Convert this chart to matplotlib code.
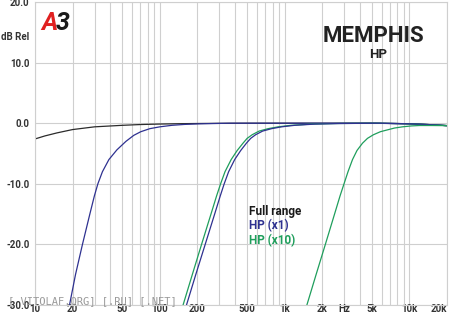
import matplotlib
matplotlib.use("Agg")
import matplotlib.pyplot as plt
from matplotlib.ticker import FixedLocator, NullFormatter

plt.rcParams['font.family'] = ['Roboto', 'DejaVu Sans']

# frequency response curves (Hz, dB)
full_f = [10, 12, 15, 20, 30, 50, 70, 100, 150, 200, 300, 500, 1000, 2000, 5000, 8000, 10000, 12000, 15000, 20000]
full_db = [-2.6, -2.1, -1.6, -1.05, -0.6, -0.35, -0.22, -0.14, -0.08, -0.05, -0.02, 0, 0, 0, 0, -0.05, -0.1, -0.15, -0.25, -0.4]

hp1_lo_f = [18.9, 21.1, 24.0, 27.5, 29.9, 31.9, 34.7, 39.1, 45.3, 53.5, 61.9, 70.5, 83.2, 100, 125, 158, 209, 363,
            1000, 5000, 10000, 15000, 20000]
hp1_lo_db = [-30, -25, -20, -15, -12, -10, -8, -6, -4.4, -3, -2, -1.4, -0.9, -0.6, -0.35, -0.2, -0.1, 0,
             0, 0, -0.1, -0.25, -0.4]

hp1_hi_f = [163.6, 194, 231, 275, 305, 328, 356, 398, 445, 494, 535, 586, 667, 787, 946, 1202, 1738, 2754, 5754,
            10000, 15000, 20000]
hp1_hi_db = [-30, -25, -20, -15, -12, -10, -8, -6, -4.5, -3.3, -2.5, -1.9, -1.3, -0.9, -0.6, -0.35, -0.15, -0.05, 0,
             -0.1, -0.25, -0.4]

hp10_lo_f = [153.6, 182, 216, 257, 285, 307, 333, 373, 417, 464, 501, 550, 625, 738, 887, 1127, 1629, 2606, 5546,
             10000, 15000, 20000]
hp10_lo_db = [-30, -25, -20, -15, -12, -10, -8, -6, -4.5, -3.3, -2.5, -1.9, -1.3, -0.9, -0.6, -0.35, -0.15, -0.05, 0,
              -0.1, -0.25, -0.4]

hp10_hi_f = [1508, 1786, 2120, 2512, 2780, 2992, 3221, 3499, 3802, 4207, 4613, 5152, 5861, 6668, 7586, 8790,
             10375, 12023, 14997, 20000]
hp10_hi_db = [-30, -25, -20, -15, -12, -10, -8, -6, -4.5, -3.3, -2.5, -1.9, -1.4, -1.1, -0.8, -0.6,
              -0.45, -0.38, -0.38, -0.4]

xtick_pos = [10, 20, 50, 100, 200, 500, 1000, 2000, 3000, 5000, 10000, 20000]
xtick_lab = ['10', '20', '50', '100', '200', '500', '1k', '2k', 'Hz', '5k', '10k', '20k']
ytick_pos = [-30, -20, -10, 0, 10, 20]

BLACK = '#2b2b2b'
BLUE = '#2e3190'
GREEN = '#1f9e5c'
GRID = '#cfcfcf'

fig = plt.figure(figsize=(4.5, 3.14), dpi=100)
ax = fig.add_axes([35 / 450, 1 - 305 / 314, 412 / 450, 303 / 314])

ax.plot(full_f, full_db, color=BLACK, lw=0.9)
ax.plot(hp1_lo_f, hp1_lo_db, color=BLUE, lw=0.9)
ax.plot(hp10_lo_f, hp10_lo_db, color=GREEN, lw=0.9)
ax.plot(hp1_hi_f, hp1_hi_db, color=BLUE, lw=0.9)
ax.plot(hp10_hi_f, hp10_hi_db, color=GREEN, lw=0.9)

ax.set_xscale('log')
ax.set_xlim(10, 20000)
ax.set_ylim(-30, 20)

minor = [m * 10 ** d for d in range(1, 5) for m in range(1, 10)]
minor = [v for v in minor if 10 <= v <= 20000 and v not in xtick_pos]
ax.xaxis.set_major_locator(FixedLocator(xtick_pos))
ax.xaxis.set_minor_locator(FixedLocator(minor))
ax.xaxis.set_minor_formatter(NullFormatter())
ax.set_xticklabels(xtick_lab)
ax.set_yticks(ytick_pos)
ax.set_yticklabels(['%.1f' % v for v in ytick_pos])

ax.tick_params(which='both', length=0, labelsize=7, colors='#333333')
ax.tick_params(axis='x', pad=-1)
ax.tick_params(axis='y', pad=4)
for lab in ax.get_xticklabels() + ax.get_yticklabels():
    lab.set_fontweight('bold')
ax.get_xticklabels()[-1].set_horizontalalignment('right')

ax.grid(which='both', axis='x', color=GRID, lw=0.8)
ax.grid(which='major', axis='y', color=GRID, lw=0.8)
ax.set_axisbelow(True)
for s in ax.spines.values():
    s.set_color(GRID)
    s.set_linewidth(0.8)

fig.text(1 / 450, 1 - 37 / 314, 'dB Rel', fontsize=7, fontweight='bold', color='#333333', va='center')

# logos and labels
fig.text(41 / 450, 1 - 23 / 314, 'A', fontsize=18, fontweight='bold', style='italic', color='#e02020', va='center')
fig.text(56 / 450, 1 - 23 / 314, '3', fontsize=18, fontweight='bold', style='italic', color='#1a1a1a', va='center')
fig.text(373 / 450, 1 - 36 / 314, 'MEMPHIS', fontsize=16, fontweight='bold', color='#222222', ha='center', va='center')
fig.text(378 / 450, 1 - 55 / 314, 'HP', fontsize=9.5, fontweight='bold', color='#222222', ha='center', va='center')

fig.text(249 / 450, 1 - 211 / 314, 'Full range', fontsize=8.5, fontweight='bold', color='#1a1a1a', va='center')
fig.text(249 / 450, 1 - 226 / 314, 'HP (x1)', fontsize=8.5, fontweight='bold', color=BLUE, va='center')
fig.text(249 / 450, 1 - 241 / 314, 'HP (x10)', fontsize=8.5, fontweight='bold', color=GREEN, va='center')

fig.text(8 / 450, 1 - 301 / 314, '[ VITOLAF.ORG] [.RU] [.NET]', fontsize=7.5, color='#9a9a9a',
         family='DejaVu Sans Mono', va='center')

fig.savefig('out.png', dpi=100, facecolor='white')
